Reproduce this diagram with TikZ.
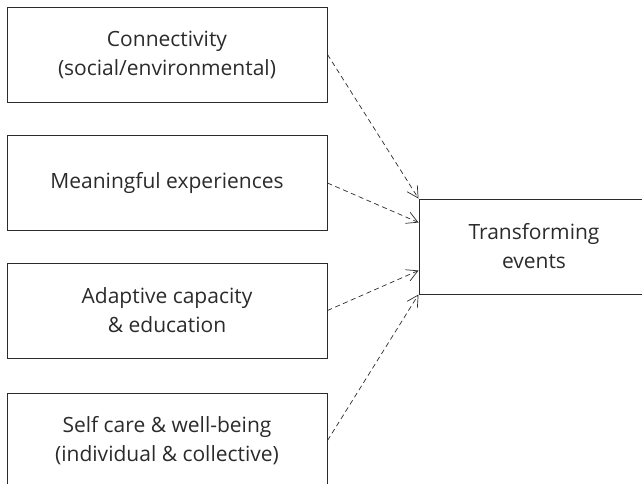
\documentclass[tikz,border=0pt]{standalone}
\usepackage{fontspec}
\setmainfont{Open Sans}
\usetikzlibrary{arrows.meta,calc}
\definecolor{ink}{HTML}{2B2B2B}
\begin{document}
\begin{tikzpicture}[x=1pt,y=-1pt,
  box/.style={draw=ink, line width=1pt, rectangle, minimum width=320pt,
    minimum height=95pt, align=center, text=ink, inner sep=0pt,
    font=\fontsize{21}{29}\selectfont},
  tbox/.style={box, minimum width=230pt},
  link/.style={draw=ink, line width=0.7pt, dash pattern=on 5pt off 3.5pt,
    -{Straight Barb[length=11pt,width=12pt,line width=0.7pt]}}]
  \useasboundingbox (0,0) rectangle (642,483);
  \clip (0,0) rectangle (642,483);
  % inputs
  \node[box] (b1) at (167,54.5) {Connectivity\\(social/environmental)};
  \node[box] (b2) at (167,183) {Meaningful experiences};
  \node[box] (b3) at (167,310.5) {Adaptive capacity\\\& education};
  \node[box] (b4) at (167,440.5) {Self care \& well-being\\(individual \& collective)};
  % outcome
  \node[tbox] (t) at (534,246.5) {Transforming\\events};
  % links
  \draw[link] (b1.east) -- (t.north west);
  \draw[link] (b2.east) -- ($(t.north west)!0.25!(t.south west)$);
  \draw[link] (b3.east) -- ($(t.north west)!0.75!(t.south west)$);
  \draw[link] (b4.east) -- (t.south west);
\end{tikzpicture}
\end{document}
